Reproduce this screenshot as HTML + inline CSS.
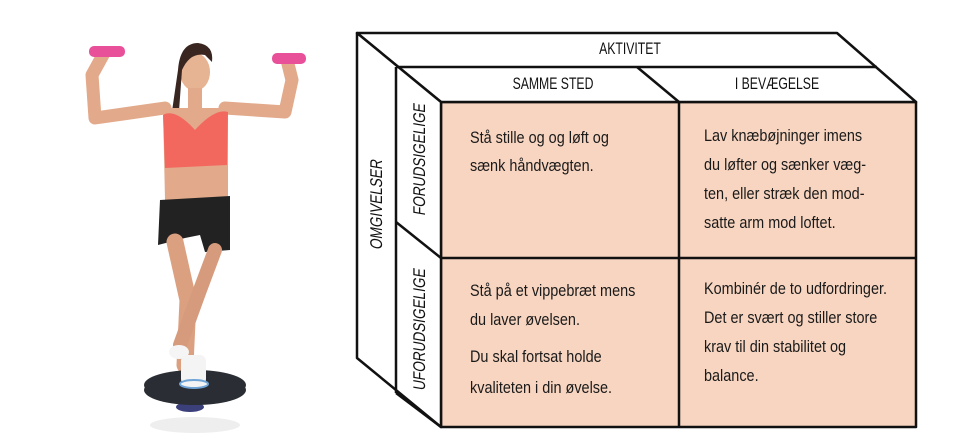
<!DOCTYPE html>
<html><head><meta charset="utf-8"><style>
html,body{margin:0;padding:0;background:#fff;}
body{width:960px;height:440px;overflow:hidden;position:relative;font-family:"Liberation Sans",sans-serif;}
svg{position:absolute;left:0;top:0;}
.t{font-family:"Liberation Sans",sans-serif;font-size:17px;fill:#1a1a1a;}
.h{font-family:"Liberation Sans",sans-serif;font-size:17px;fill:#111;}
</style></head><body>
<svg width="960" height="440" viewBox="0 0 960 440">
<!-- woman -->
<g>
<ellipse cx="195" cy="425" rx="45" ry="8" fill="#eee"/>
<path d="M165 108 L95 118 L92 75 L103 55" stroke="#e2a98a" stroke-width="13" fill="none" stroke-linecap="round" stroke-linejoin="round"/>
<path d="M225 108 L285 112 L292 80 L287 60" stroke="#e2a98a" stroke-width="13" fill="none" stroke-linecap="round" stroke-linejoin="round"/>
<rect x="89" y="46" width="36" height="11" rx="5" fill="#e8509a"/>
<rect x="272" y="53" width="34" height="11" rx="5" fill="#e8509a"/>
<ellipse cx="195" cy="72" rx="15" ry="19" fill="#e6b393"/>
<path d="M178 70 Q180 43 198 43 Q214 45 212 62 L205 55 Q190 52 182 70 L178 125 L170 125 Z" fill="#3a2620"/>
<rect x="188" y="88" width="14" height="20" fill="#e2a98a"/>
<path d="M163 108 L228 108 L228 200 L165 200 Z" fill="#e2a98a"/>
<path d="M163 115 Q175 108 195 130 Q215 108 228 112 L227 165 L165 168 Z" fill="#f2685f"/>
<path d="M160 200 L230 196 L230 250 L205 252 L200 235 L185 238 L158 245 Z" fill="#222"/>
<path d="M175 242 L188 300 L185 365" stroke="#dba080" stroke-width="17" fill="none" stroke-linecap="round"/>
<path d="M215 250 L200 290 L180 345" stroke="#d69b7c" stroke-width="14" fill="none" stroke-linecap="round"/>
<ellipse cx="179" cy="352" rx="10" ry="7" fill="#f5f5f5"/>
<ellipse cx="195" cy="385" rx="51" ry="15" fill="#2a2d33"/>
<ellipse cx="190" cy="407" rx="14" ry="5" fill="#3b3f7a"/>
<ellipse cx="195" cy="390" rx="51" ry="15" fill="#2a2d33"/>
<rect x="181" y="355" width="25" height="30" rx="6" fill="#f4f4f4"/>
<ellipse cx="194" cy="384" rx="14" ry="4" fill="#f4f4f4" stroke="#6fa4d6" stroke-width="2"/>
</g>

<!-- box -->
<g stroke="#111" stroke-width="2.5" stroke-linejoin="round" fill="none">
<polygon points="441,102 916,102 916,427 441,427" fill="#f8d5c0"/>
<polygon points="357,33 837,33 916,102 441,102 357,33" fill="#fff"/>
<polygon points="357,33 441,102 441,427 357,358" fill="#fff"/>
<line x1="396" y1="67" x2="877" y2="67"/>
<line x1="396" y1="67" x2="396" y2="393"/>
<line x1="396" y1="393" x2="441" y2="427"/>
<line x1="637" y1="67" x2="679" y2="102"/>
<line x1="679" y1="102" x2="679" y2="427"/>
<line x1="441" y1="258" x2="916" y2="258"/>
<line x1="396" y1="222" x2="441" y2="258"/>
</g>
<g class="h">
<text x="630" y="54" text-anchor="middle" transform="translate(630 0) scale(0.72 1) translate(-630 0)">AKTIVITET</text>
<text x="553" y="89" text-anchor="middle" transform="translate(553 0) scale(0.72 1) translate(-553 0)">SAMME STED</text>
<text x="777" y="89" text-anchor="middle" transform="translate(777 0) scale(0.72 1) translate(-777 0)">I BEVÆGELSE</text>
<text transform="translate(382 205) rotate(-90) scale(0.8 1) skewX(-12)" text-anchor="middle">OMGIVELSER</text>
<text transform="translate(425 160) rotate(-90) scale(0.8 1) skewX(-12)" text-anchor="middle">FORUDSIGELIGE</text>
<text transform="translate(425 330) rotate(-90) scale(0.8 1) skewX(-12)" text-anchor="middle">UFORUDSIGELIGE</text>
</g>
<g class="t">
<g transform="translate(470 0) scale(0.85 1)">
<text x="0" y="143">Stå stille og og løft og</text>
<text x="0" y="171">sænk håndvægten.</text>
<text x="0" y="296">Stå på et vippebræt mens</text>
<text x="0" y="325">du laver øvelsen.</text>
<text x="0" y="362">Du skal fortsat holde</text>
<text x="0" y="393">kvaliteten i din øvelse.</text>
</g>
<g transform="translate(704 0) scale(0.85 1)">
<text x="0" y="141">Lav knæbøjninger imens</text>
<text x="0" y="170">du løfter og sænker væg-</text>
<text x="0" y="199">ten, eller stræk den mod-</text>
<text x="0" y="228">satte arm mod loftet.</text>
<text x="0" y="294">Kombinér de to udfordringer.</text>
<text x="0" y="323">Det er svært og stiller store</text>
<text x="0" y="352">krav til din stabilitet og</text>
<text x="0" y="381">balance.</text>
</g>
</g>
</svg>
</body></html>
